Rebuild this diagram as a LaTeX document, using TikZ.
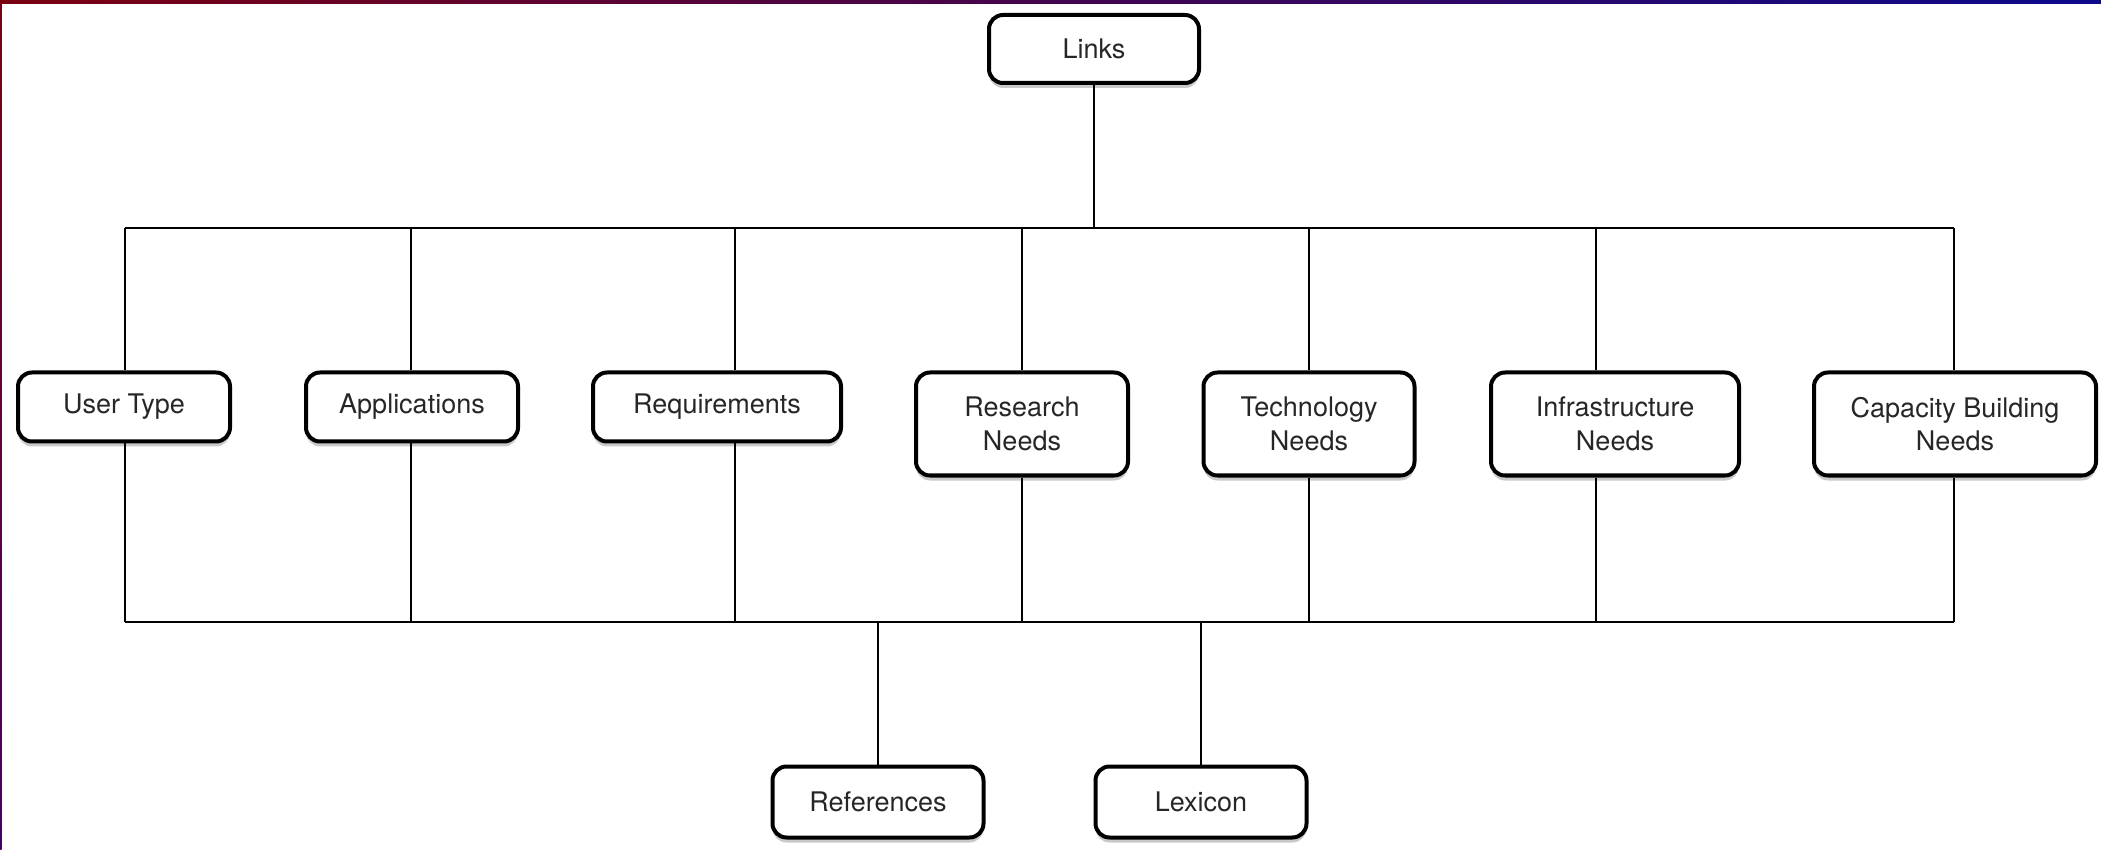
\documentclass[tikz,border=0pt]{standalone}
\usepackage{fontspec}
\setmainfont{TeX Gyre Heros}
\usetikzlibrary{shadows}
\definecolor{framered}{RGB}{122,0,16}
\definecolor{frameblue}{RGB}{12,10,140}
\definecolor{framepurple}{RGB}{70,0,100}
\tikzset{
	box/.style={draw=black, line width=2pt, rounded corners=7pt, fill=white, inner sep=0pt, align=center,
		text=black!85, font=\fontsize{13.5pt}{16.8pt}\selectfont,
		drop shadow={shadow xshift=0pt, shadow yshift=-2.5pt, opacity=0.3, fill=black!70}},
	wire/.style={line width=0.75pt}
}
\begin{document}
\begin{tikzpicture}[x=0.5pt, y=-0.5pt, line join=round]
	\def\ytop{228} \def\ybot{622} % bus lines
	\useasboundingbox (0,0) rectangle (2101,850);
	\shade[left color=framered, right color=frameblue] (0,0) rectangle (2101,4);
	\shade[top color=framered, bottom color=framepurple] (0,0) rectangle (1.5,850);
	% boxes
	\node[box, minimum width=210pt/2, minimum height=68pt/2] (links) at (1094,49) {Links};
	\node[box, minimum width=212pt/2, minimum height=69pt/2] (user) at (124,407) {User Type};
	\node[box, minimum width=212pt/2, minimum height=69pt/2] (apps) at (412,407) {Applications};
	\node[box, minimum width=248pt/2, minimum height=69pt/2] (req) at (717,407) {Requirements};
	\node[box, minimum width=212pt/2, minimum height=103pt/2] (research) at (1022,424) {Research\\Needs};
	\node[box, minimum width=211pt/2, minimum height=103pt/2] (tech) at (1309,424) {Technology\\Needs};
	\node[box, minimum width=248pt/2, minimum height=103pt/2] (infra) at (1615,424) {Infrastructure\\Needs};
	\node[box, minimum width=282pt/2, minimum height=103pt/2] (capacity) at (1955,424) {Capacity Building\\Needs};
	\node[box, minimum width=211pt/2, minimum height=71pt/2] (refs) at (878,802) {References};
	\node[box, minimum width=211pt/2, minimum height=71pt/2] (lexicon) at (1201,802) {Lexicon};
	% bus points
	\foreach \n/\x in {1/125, 2/411, 3/735, 4/1022, 5/1309, 6/1596, 7/1954}{
		\coordinate (t\n) at (\x,\ytop);
		\coordinate (b\n) at (\x,\ybot);
	}
	\draw[wire] (t1)--(t7) (b1)--(b7);
	\draw[wire] (links.south)--(links.south |- t1);
	\foreach \n/\b in {1/user, 2/apps, 3/req, 4/research, 5/tech, 6/infra, 7/capacity}{
		\draw[wire] (t\n)--(\b.north -| t\n) (\b.south -| t\n)--(b\n);
	}
	\draw[wire] (refs.north)--(refs.north |- b1)
	(lexicon.north)--(lexicon.north |- b1);
\end{tikzpicture}
\end{document}
